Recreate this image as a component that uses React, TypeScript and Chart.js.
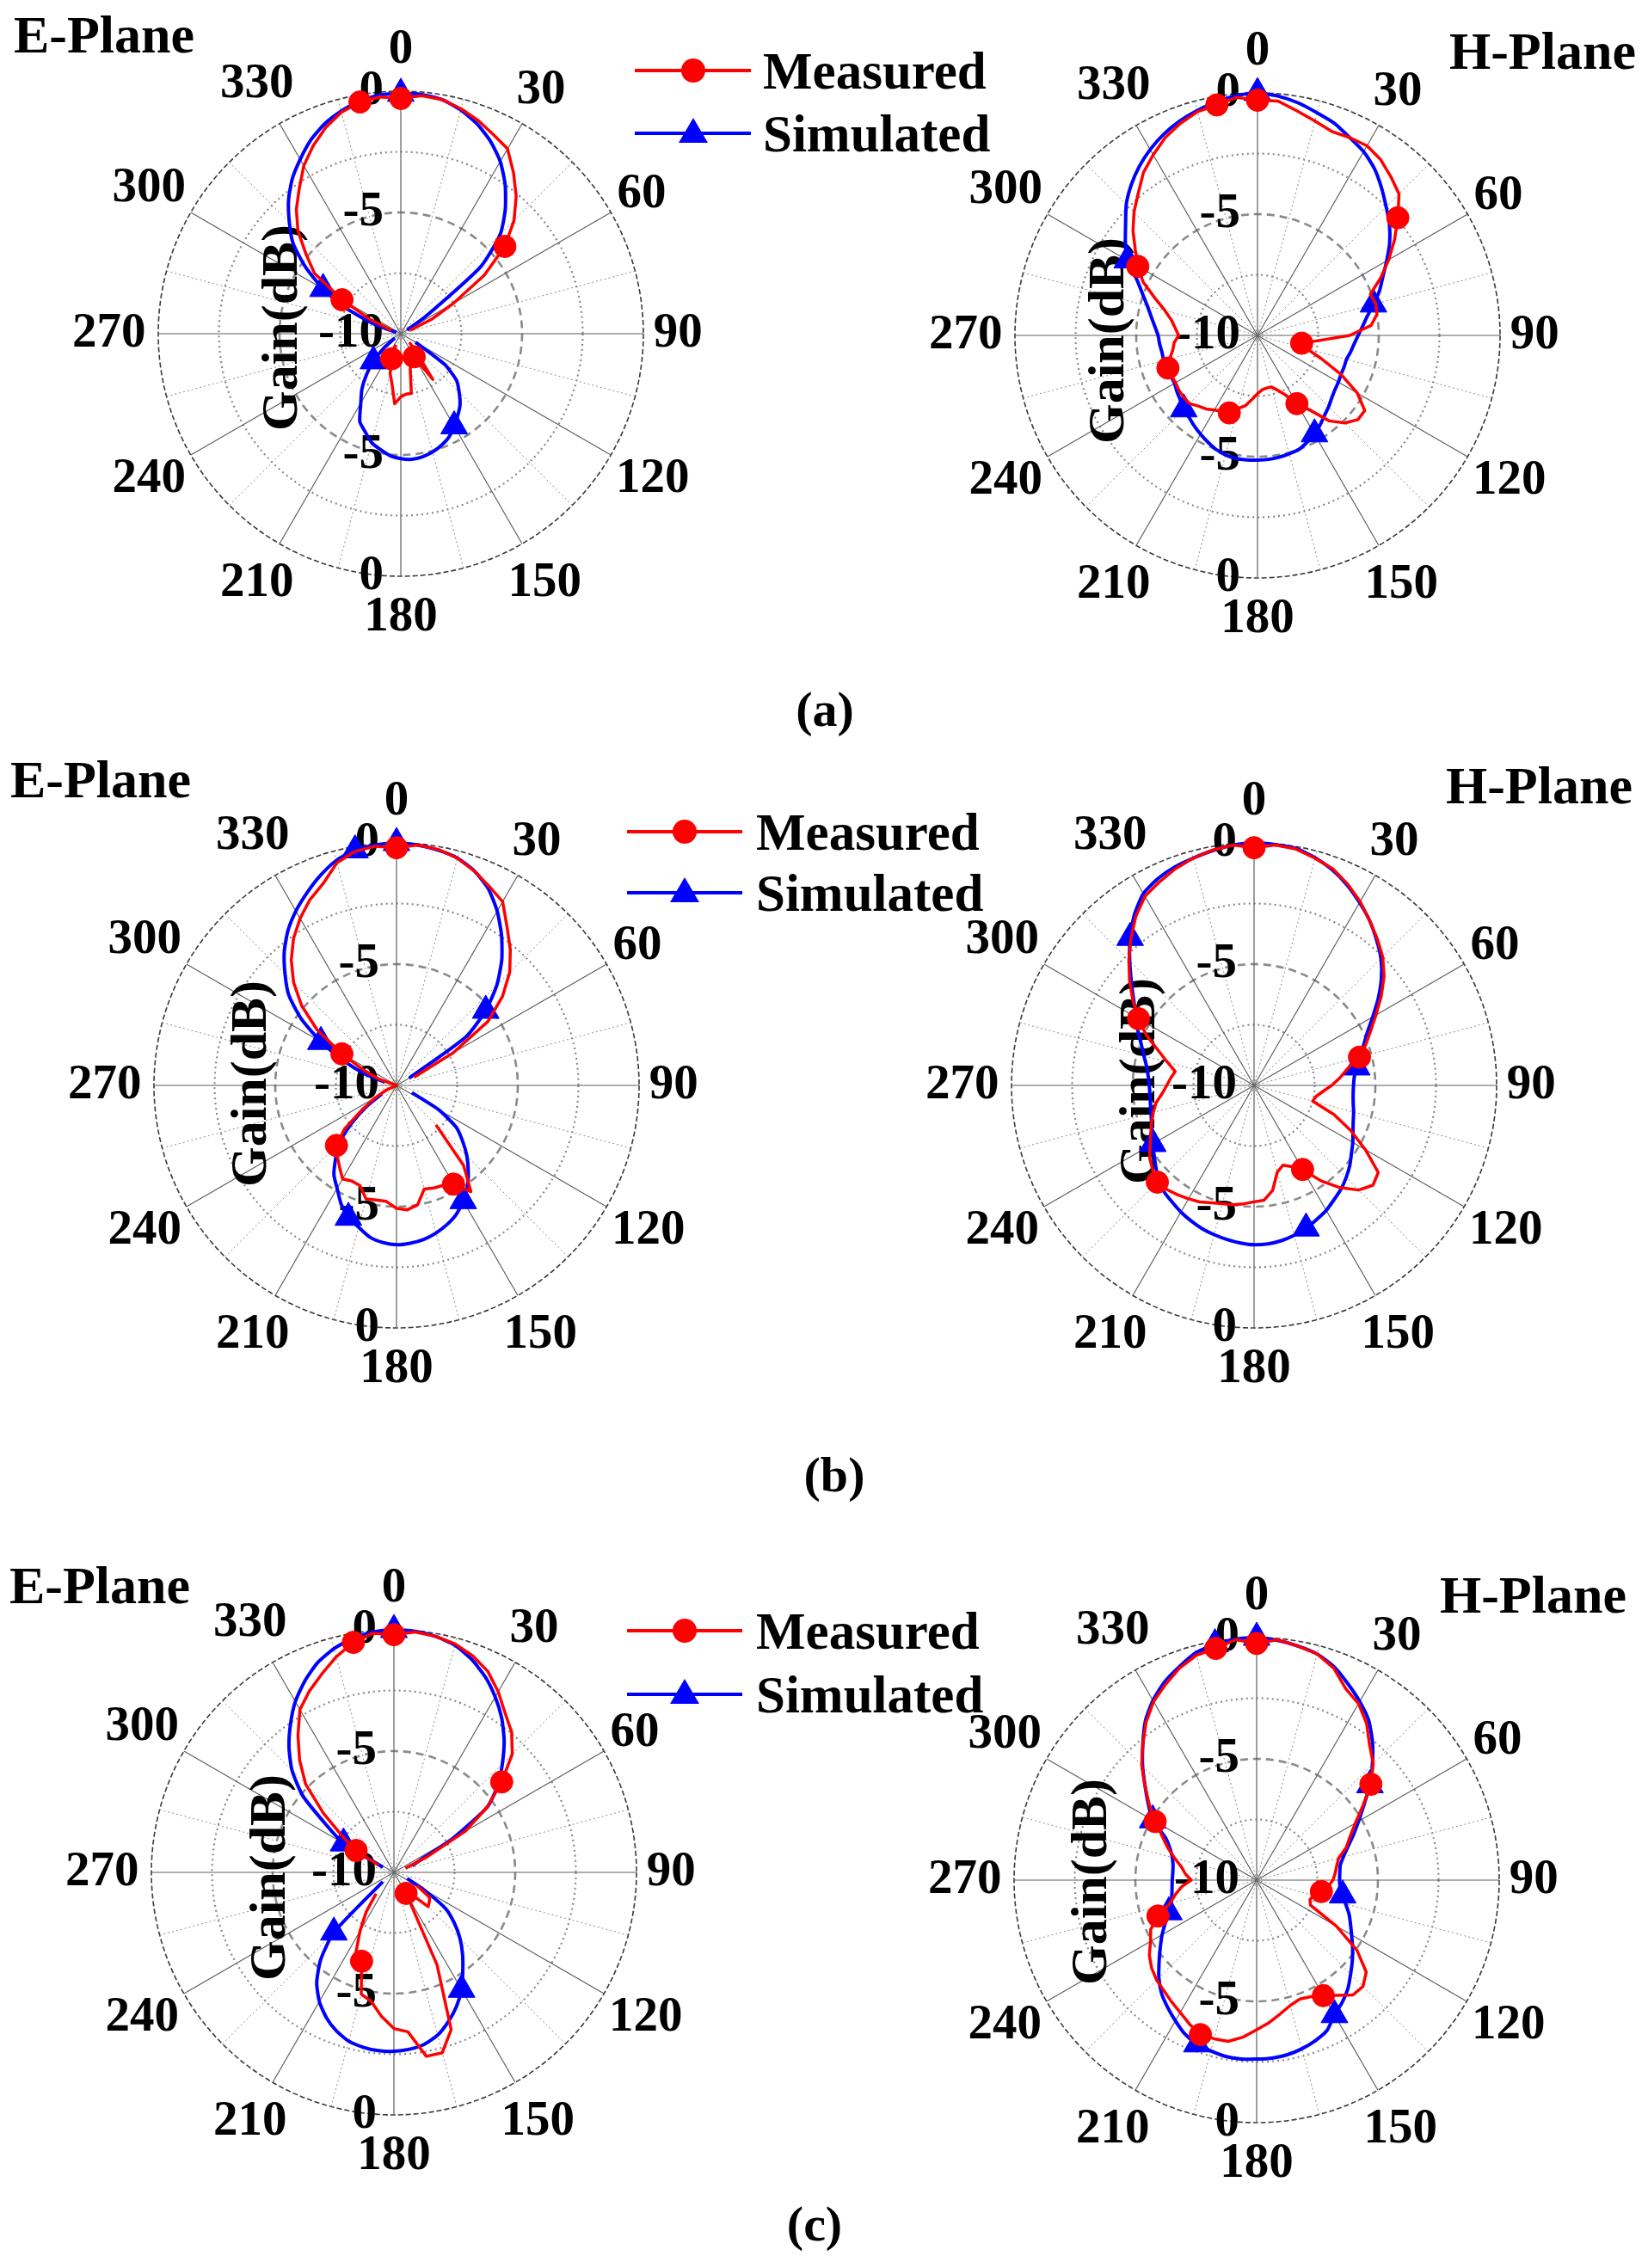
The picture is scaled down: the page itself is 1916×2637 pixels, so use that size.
import React, { useEffect, useRef } from 'react';
import { Chart, registerables } from 'chart.js';

Chart.register(...registerables);

const N = null;

// Angle categories (degrees, clockwise from top)
const ANGLE_LABELS = [
  0, 5, 10, 15, 20, 25, 30, 35, 40, 45, 50, 55, 60, 65, 70, 75, 80, 85,
  90, 95, 100, 105, 110, 115, 120, 125, 130, 135, 140, 145, 150, 155, 160, 165, 170, 175,
  180, 185, 190, 195, 200, 205, 210, 215, 220, 225, 230, 235, 240, 245, 250, 255, 260, 265,
  270, 275, 280, 285, 290, 295, 300, 305, 310, 315, 320, 325, 330, 335, 340, 345, 350, 355,
];
const ANGLE_TICKS = [0, 30, 60, 90, 120, 150, 180, 210, 240, 270, 300, 330];
const RADIAL_TICKS = [0, -5, -10];

// ---------- (a) ----------
const aE_sim = [
  -0.1, -0.1, -0.2, -0.45, -0.8, -1.25, -1.8, -2.5, -3.3, -4.2, -5.7, -8.7, -9.7,
  N, N, N, N, N, N, N, N, N, N, N,
  -9.3, -7.8, -7.0, -6.6, -6.2, -5.9, -5.6, -5.3, -5.1, -4.95, -4.85, -4.8,
  -4.85, -4.95, -5.15, -5.35, -5.7, -6.0, -6.7, -7.2, -7.8, -8.4, -9.1, -9.7,
  N, N, N, N, N, N, N, N, N,
  -9.8, -8.8, -7.5, -6.3, -5.2, -4.2, -3.5, -2.8, -2.2, -1.7, -1.2, -0.8, -0.5, -0.25, -0.12,
];
const aE_meas = [
  -0.3, -0.15, -0.2, -0.4, -0.65, -0.95, -1.2, -1.9, -2.6, -3.4, -4.4, -5.8, -7.5, -8.6, -9.6,
  N, N, N, N, N, N, N, N, N, N, N, N,
  -9.5, -9.0, -7.7, -8.9, -8.8, -8.7, -8.5, -7.5, -7.5, -7.4, -7.1, -7.9, -8.3, -8.9, -9.5,
  N, N, N, N, N, N, N, N, N, N, N, N, N, N, N, N,
  -9.6, -8.6, -7.2, -5.65, -4.9, -4.0, -3.3, -2.7, -2.0, -1.45, -0.95, -0.55, -0.3, -0.2,
];
const aH_sim = [
  0, -0.1, -0.27, -0.5, -0.7, -1.0, -1.25, -1.6, -2.05, -2.5,
  -2.9, -3.35, -3.85, -4.3, -4.65, -5.05, -5.4, -5.65, -5.85, -6.0,
  -6.1, -6.2, -6.2, -6.2, -6.15, -6.1, -6.0, -5.85, -5.7, -5.5,
  -5.3, -5.15, -5.0, -4.95, -4.9, -4.87, -4.86, -4.85, -4.85, -4.9,
  -5.0, -5.15, -5.3, -5.45, -5.6, -5.7, -5.85, -5.95, -6.05, -6.05,
  -6.05, -6.0, -6.0, -5.95, -5.9, -5.75, -5.55, -5.3, -4.95, -4.5,
  -3.8, -3.35, -2.9, -2.35, -1.9, -1.5, -1.15, -0.85, -0.6, -0.4,
  -0.22, -0.08,
];
const aH_meas = [
  -0.3, -0.3, -0.6, -0.85, -1.05, -1.0, -0.97, -1.15, -1.45, -1.75,
  -2.45, -3.1, -3.75, -4.4, -5.05, -4.95, -5.0, -5.3, -6.2, -7.5,
  -8.15, -7.9, -7.2, -6.2, -5.25, -4.6, -4.6, -4.9, -5.4, -6.25,
  -6.75, -7.3, -7.6, -7.8, -7.8, -7.75, -7.6, -7.35, -7.05, -6.88,
  -6.6, -6.55, -6.45, -6.3, -6.2, -6.03, -6.03, -6.05, -6.1, -6.08,
  -6.07, -6.25, -6.45, -6.55, -6.75, -6.6, -6.4, -6.05, -5.5, -4.8,
  -4.3, -3.85, -3.3, -2.8, -2.35, -1.8, -1.4, -1.0, -0.7, -0.45,
  -0.35, -0.15,
];

// ---------- (b) ----------
const bE_sim = [
  0, -0.05, -0.15, -0.3, -0.6, -1.05, -1.7, -2.45, -3.25, -4.15, -5.2, -6.5, -9.4,
  N, N, N, N, N, N, N, N, N, N,
  -9.3, -8.0, -7.0, -6.45, -5.9, -5.4, -4.9, -4.5, -4.15, -3.9,
  -3.7, -3.55, -3.47, -3.43, -3.5, -3.65, -3.95, -4.2, -4.6, -5.1,
  -5.5, -6.1, -6.65, -7.6, -8.5, -9.3,
  N, N, N, N, N, N, N, N,
  -9.5, -8.6, -7.6, -6.4, -5.2, -4.2, -3.5, -2.8, -2.2, -1.7, -1.25, -0.8, -0.4, -0.15, -0.05,
];
const bE_meas = [
  -0.2, -0.05, -0.12, -0.3, -0.6, -0.95, -1.25, -2.05, -2.7, -3.4, -4.3, -5.4, -7.3, -9.2,
  N, N, N, N, N, N, N, N, N, N, N, N, N,
  -7.7, -5.7, -4.65, -5.3, -5.45, -5.5, -5.58, -5.0, -4.85, -4.93,
  -5.2, -5.2, -5.15, -5.6, -5.65, -5.55, -5.9, -6.2, -6.5, -7.2,
  -8.3, -9.0, -9.5, -10, -10, -10, -10, -10, -10, -10,
  -10, -9.2, -8.5, -7.4, -6.0, -4.9, -4.0, -3.25, -2.6, -2.05,
  -1.55, -1.15, -0.5, -0.2, -0.1,
];
const bH_sim = [
  0, -0.03, -0.08, -0.28, -0.55, -0.9, -1.3, -1.7, -2.15, -2.6,
  -3.15, -3.75, -4.35, -4.85, -5.2, -5.5, -5.7, -5.85, -5.9, -5.9,
  -5.85, -5.75, -5.65, -5.5, -5.3, -5.1, -4.85, -4.63, -4.42, -4.25,
  -4.05, -3.9, -3.73, -3.6, -3.5, -3.44, -3.43, -3.48, -3.55, -3.63,
  -3.72, -3.84, -3.97, -4.12, -4.25, -4.45, -4.72, -4.97, -5.18, -5.35,
  -5.5, -5.6, -5.66, -5.69, -5.68, -5.62, -5.5, -5.3, -5.05, -4.72,
  -4.4, -3.95, -3.4, -2.75, -2.05, -1.4, -0.87, -0.6, -0.42, -0.3,
  -0.17, -0.05,
];
const bH_meas = [
  -0.2, -0.05, -0.1, -0.3, -0.5, -0.85, -1.25, -1.7, -2.1, -2.5,
  -3.0, -3.6, -4.2, -4.7, -5.1, -5.5, -6.1, -6.45, -6.8, -7.15,
  -7.4, -7.5, -6.5, -5.6, -4.7, -3.75, -3.6, -3.9, -4.5, -5.2,
  -6.0, -6.3, -6.5, -6.3, -5.6, -5.25, -5.2, -5.1, -5.0, -4.95,
  -4.85, -4.7, -4.6, -4.5, -4.4, -4.36, -4.55, -4.75, -5.05, -5.3,
  -5.5, -5.7, -5.9, -6.2, -6.4, -6.55, -6.7, -6.3, -5.8, -5.1,
  -4.5, -3.9, -3.3, -2.7, -2.1, -1.5, -1.0, -0.75, -0.5, -0.3,
  -0.15, -0.05,
];

// ---------- (c) ----------
const cE_sim = [
  0, -0.02, -0.12, -0.3, -0.65, -1.1, -1.65, -2.25, -2.93, -3.68, -4.4, -5.3, -7.2, -8.8, -9.2,
  N, N, N, N, N, N, N, N,
  -9.4, -8.6, -7.4, -6.75, -6.15, -5.6, -5.05, -4.42, -3.9, -3.45,
  -3.05, -2.8, -2.68, -2.62, -2.62, -2.68, -2.8, -3.05, -3.4, -3.85,
  -4.45, -5.3, -6.5, -9.4,
  N, N, N, N, N, N, N, N, N, N, N, N,
  -9.5, -7.6, -6.6, -5.1, -4.06, -3.27, -2.56, -1.87, -1.3, -0.8, -0.45, -0.2, -0.05,
];
const cE_meas = [
  -0.2, -0.05, -0.12, -0.25, -0.5, -0.85, -1.4, -2.0, -2.45, -3.1, -4.2, -5.3, -6.6, -8.5, -9.5,
  N, N, N, N, N, N, N, N, N,
  -8.9, -8.2, -8.1, -8.0, -8.7, -8.9, -9.0, -5.8, -3.1, -2.3,
  -2.3, -3.4, -3.56, -4.05, -4.6, -4.8, -6.1, -6.25, -7.2, -8.0,
  -8.85,
  N, N, N, N, N, N, N, N, N, N, N, N, N, N,
  -9.3, -8.2, -7.4, -6.2, -4.85, -3.95, -3.1, -2.25, -1.75, -1.3, -0.8, -0.37, -0.1,
];
const cH_sim = [
  0, -0.08, -0.2, -0.35, -0.65, -1.08, -1.5, -1.95, -2.57, -3.25,
  -3.9, -4.6, -5.15, -5.6, -6.0, -6.3, -6.5, -6.56, -6.58, -6.55,
  -6.4, -6.2, -5.95, -5.73, -5.48, -5.17, -4.85, -4.52, -4.15, -3.85,
  -3.58, -3.15, -2.95, -2.8, -2.69, -2.63, -2.62, -2.6, -2.62, -2.71,
  -2.8, -3.0, -3.3, -3.6, -3.9, -4.3, -4.75, -5.15, -5.5, -5.85,
  -6.15, -6.35, -6.45, -6.5, -6.52, -6.53, -6.5, -6.4, -6.2, -5.85,
  -5.05, -4.55, -4.0, -3.35, -2.7, -2.0, -1.45, -1.0, -0.65, -0.3,
  -0.12, -0.03,
];
const cH_meas = [
  -0.24, -0.05, -0.2, -0.35, -0.7, -1.3, -1.6, -2.1, -2.75, -3.2,
  -3.85, -4.65, -5.3, -5.75, -6.07, -6.5, -6.65, -6.75, -6.85, -7.05,
  -7.29, -7.55, -7.66, -7.55, -6.2, -4.95, -4.1, -3.8, -3.82, -4.2,
  -4.5, -4.7, -4.78, -4.65, -4.4, -4.1, -3.83, -3.5, -3.25, -3.23,
  -3.22, -3.45, -3.7, -3.88, -4.05, -4.17, -4.35, -4.6, -4.95, -5.18,
  -5.67, -6.3, -6.6, -6.9, -7.3, -7.05, -6.85, -6.5, -6.1, -5.7,
  -5.17, -4.6, -4.0, -3.3, -2.7, -2.05, -1.5, -1.1, -0.7, -0.4,
  -0.3, -0.05,
];

// Marker angles (degrees) per series
const EVERY50 = [0, 50, 100, 150, 200, 250, 300, 350];
const EVERY75 = [0, 75, 150, 225, 300];
const EVERY80 = [80, 160, 240, 320];

const RED = '#ff0000';
const BLUE = '#0000ff';
const FONT = '"Liberation Serif", "Times New Roman", Times, serif';

const PLOTS = [
  { id: 'aE', cx: 466, cy: 388, sim: aE_sim, meas: aE_meas, simMarks: EVERY75, measMarks: EVERY50, gx: -137, gy: -7 },
  { id: 'aH', cx: 1462, cy: 390, sim: aH_sim, meas: aH_meas, simMarks: EVERY75, measMarks: EVERY50, gx: -172, gy: 6 },
  { id: 'bE', cx: 461, cy: 1262, sim: bE_sim, meas: bE_meas, simMarks: EVERY50, measMarks: EVERY75, gx: -168, gy: -2 },
  { id: 'bH', cx: 1458, cy: 1262, sim: bH_sim, meas: bH_meas, simMarks: EVERY80, measMarks: EVERY75, gx: -132, gy: -5 },
  { id: 'cE', cx: 458, cy: 2177, sim: cE_sim, meas: cE_meas, simMarks: EVERY75, measMarks: EVERY50, gx: -143, gy: 6 },
  { id: 'cH', cx: 1461, cy: 2186, sim: cH_sim, meas: cH_meas, simMarks: EVERY50, measMarks: EVERY50, gx: -191, gy: 2 },
];

const CANVAS = 760;
const PAD = 98;

const polarText = {
  id: 'polarText',
  beforeDatasetsDraw(chart: any, _args: any, opts: any) {
    const s = chart.scales.r;
    const ctx = chart.ctx;
    const R = s.drawingArea;
    const cx = s.xCenter;
    const cy = s.yCenter;
    ctx.save();
    ctx.fillStyle = '#000';
    ctx.font = `bold 57px ${FONT}`;
    ctx.textAlign = 'center';
    ctx.textBaseline = 'middle';
    ANGLE_TICKS.forEach((a) => {
      const idx = ANGLE_LABELS.indexOf(a);
      const txt = String(a);
      const w = ctx.measureText(txt).width;
      const sn = Math.abs(Math.sin((a * Math.PI) / 180));
      const d = R + 48 + (w / 2 - 35) * sn * 1.2;
      const p = s.getPointPosition(idx, d);
      ctx.fillText(txt, p.x, p.y);
    });
    ctx.textAlign = 'right';
    RADIAL_TICKS.forEach((v) => {
      const d = s.getDistanceFromCenterForValue(v);
      ctx.fillText(String(v), cx - 20, cy - d);
      if (d > 0) ctx.fillText(String(v), cx - 20, cy + d);
    });
    ctx.font = `bold 60px ${FONT}`;
    ctx.translate(cx + opts.gx, cy + opts.gy);
    ctx.rotate(-Math.PI / 2);
    ctx.textAlign = 'center';
    ctx.fillText('Gain(dB)', 0, 0);
    ctx.restore();
  },
};

function PolarPlot({ p }: { p: any }) {
  const ref = useRef<HTMLCanvasElement>(null);
  useEffect(() => {
    const canvas = ref.current as HTMLCanvasElement;
    const simIdx = new Set(p.simMarks.map((a: number) => ANGLE_LABELS.indexOf(a)));
    const measIdx = new Set(p.measMarks.map((a: number) => ANGLE_LABELS.indexOf(a)));
    const chart = new Chart(canvas, {
      type: 'radar',
      data: {
        labels: ANGLE_LABELS.map(String),
        datasets: [
          {
            label: 'Measured',
            data: p.meas,
            borderColor: RED,
            backgroundColor: RED,
            borderWidth: 3.5,
            fill: false,
            tension: 0,
            spanGaps: false,
            clip: false,
            borderJoinStyle: 'round',
            pointStyle: 'circle',
            pointRadius: (c: any) => (measIdx.has(c.dataIndex) && c.raw != null ? 13 : 0),
            pointHoverRadius: 0,
            pointBackgroundColor: RED,
            pointBorderColor: RED,
            pointBorderWidth: 1,
          } as any,
          {
            label: 'Simulated',
            data: p.sim,
            borderColor: BLUE,
            backgroundColor: BLUE,
            borderWidth: 4,
            fill: false,
            tension: 0.2,
            spanGaps: false,
            clip: false,
            borderJoinStyle: 'round',
            pointStyle: 'triangle',
            pointRadius: (c: any) => (simIdx.has(c.dataIndex) && c.raw != null ? 18 : 0),
            pointHoverRadius: 0,
            pointBackgroundColor: BLUE,
            pointBorderColor: BLUE,
            pointBorderWidth: 1,
          } as any,
        ],
      },
      options: {
        animation: false,
        responsive: false,
        maintainAspectRatio: false,
        events: [],
        layout: { padding: PAD },
        plugins: {
          legend: { display: false },
          tooltip: { enabled: false },
          polarText: { gx: p.gx, gy: p.gy },
        } as any,
        scales: {
          r: {
            min: -10,
            max: 0,
            startAngle: 0,
            beginAtZero: false,
            ticks: { display: false, stepSize: 2.5 },
            pointLabels: { display: false },
            grid: {
              circular: true,
              color: (c: any) => (c.index === 4 ? '#3a3a3a' : '#8a8a8a'),
              lineWidth: (c: any) => (c.index === 4 ? 1.6 : c.index === 2 ? 2.6 : 2.2),
            },
            border: {
              dash: (c: any) => (c.index === 4 ? [6, 3] : c.index === 2 ? [9, 6] : [2, 4]),
            },
            angleLines: {
              color: (c: any) => (c.index % 6 === 0 ? '#5e5e5e' : '#8c8c8c'),
              lineWidth: (c: any) => (c.index % 6 === 0 ? 1.2 : c.index % 3 === 0 ? 1 : 0),
              borderDash: (c: any) => (c.index % 6 === 3 ? [2, 3] : []),
            },
          } as any,
        },
      },
      plugins: [polarText as any],
    });
    const s: any = chart.scales.r;
    canvas.style.left = `${p.cx - s.xCenter}px`;
    canvas.style.top = `${p.cy - s.yCenter}px`;
    return () => chart.destroy();
  }, []);
  return (
    <canvas
      ref={ref}
      width={CANVAS}
      height={CANVAS}
      style={{ position: 'absolute', left: p.cx - CANVAS / 2, top: p.cy - CANVAS / 2, width: CANVAS, height: CANVAS }}
    />
  );
}

function Txt({ x, y, text, size, center }: { x: number; y: number; text: string; size: number; center?: boolean }) {
  return (
    <div
      style={{
        position: 'absolute',
        left: x,
        top: y - size / 2,
        fontFamily: FONT,
        fontWeight: 'bold',
        fontSize: size,
        lineHeight: `${size}px`,
        whiteSpace: 'nowrap',
        color: '#000',
        transform: center ? 'translateX(-50%)' : undefined,
        zIndex: 2,
      }}
    >
      {text}
    </div>
  );
}

const TITLES = [
  { x: 16, y: 40, text: 'E-Plane' },
  { x: 1685, y: 59, text: 'H-Plane' },
  { x: 12, y: 906, text: 'E-Plane' },
  { x: 1681, y: 913, text: 'H-Plane' },
  { x: 11, y: 1843, text: 'E-Plane' },
  { x: 1674, y: 1854, text: 'H-Plane' },
];
const PANELS = [
  { x: 959, y: 825, text: '(a)' },
  { x: 970, y: 1715, text: '(b)' },
  { x: 947, y: 2586, text: '(c)' },
];
const LEGENDS = [
  { x1: 738, x2: 873, y1: 82, y2: 155, tx: 887 },
  { x1: 729, x2: 863, y1: 967, y2: 1038, tx: 879 },
  { x1: 729, x2: 863, y1: 1896, y2: 1970, tx: 879 },
];

function Legend({ l }: { l: any }) {
  const mid = (l.x1 + l.x2) / 2;
  return (
    <>
      <div style={{ position: 'absolute', left: l.x1, top: l.y1 - 2, width: l.x2 - l.x1, height: 4, background: RED, zIndex: 2 }} />
      <div style={{ position: 'absolute', left: mid - 14, top: l.y1 - 14, width: 28, height: 28, borderRadius: '50%', background: RED, zIndex: 2 }} />
      <Txt x={l.tx} y={l.y1} text="Measured" size={61} />
      <div style={{ position: 'absolute', left: l.x1, top: l.y2 - 2, width: l.x2 - l.x1, height: 4, background: BLUE, zIndex: 2 }} />
      <div
        style={{
          position: 'absolute',
          left: mid - 17,
          top: l.y2 - 18,
          width: 0,
          height: 0,
          borderLeft: '17px solid transparent',
          borderRight: '17px solid transparent',
          borderBottom: `29px solid ${BLUE}`,
          zIndex: 2,
        }}
      />
      <Txt x={l.tx} y={l.y2} text="Simulated" size={61} />
    </>
  );
}

export default function App() {
  return (
    <div style={{ position: 'absolute', left: 0, top: 0, width: 1916, height: 2637, background: '#fff', overflow: 'hidden' }}>
      {PLOTS.map((p) => (
        <PolarPlot key={p.id} p={p} />
      ))}
      {TITLES.map((t, i) => (
        <Txt key={`t${i}`} x={t.x} y={t.y} text={t.text} size={62} />
      ))}
      {PANELS.map((t, i) => (
        <Txt key={`p${i}`} x={t.x} y={t.y} text={t.text} size={58} center />
      ))}
      {LEGENDS.map((l, i) => (
        <Legend key={`l${i}`} l={l} />
      ))}
    </div>
  );
}
